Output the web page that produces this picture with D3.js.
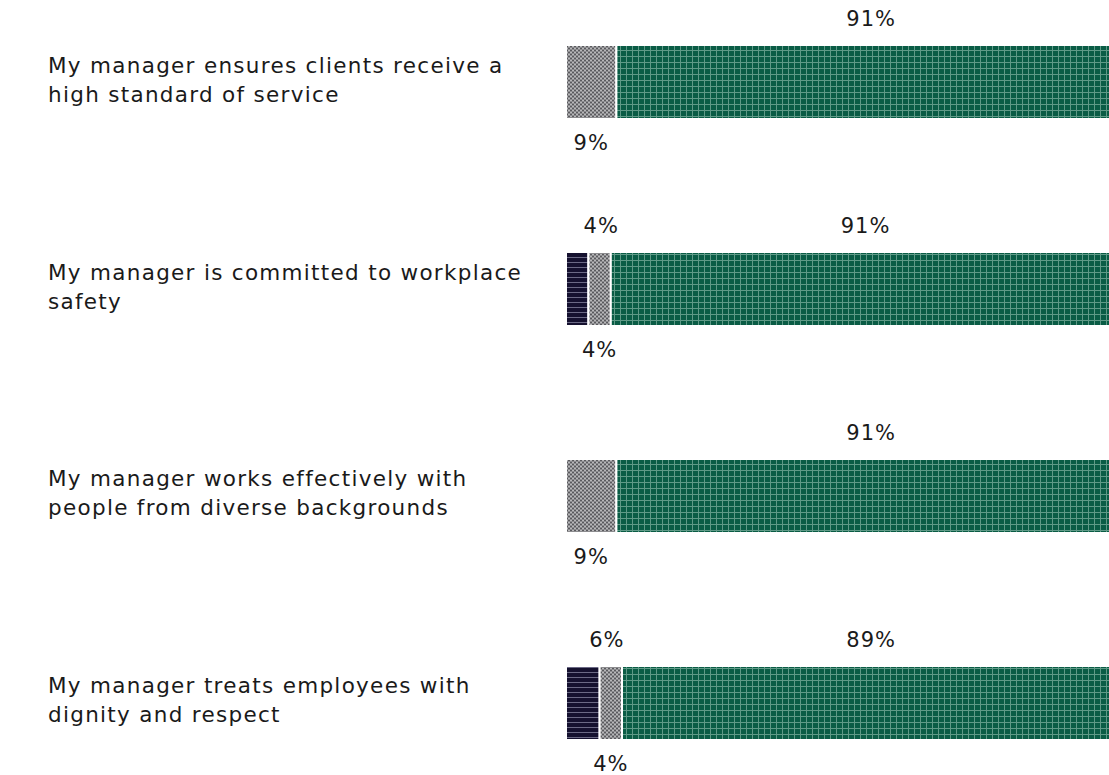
<!DOCTYPE html>
<html>
<head>
<meta charset="utf-8">
<script src="https://cdn.jsdelivr.net/npm/d3@7.9.0/dist/d3.min.js"></script>
<style>
  body { margin: 0; background: #fff; }
  svg { display: block; font-family: "DejaVu Sans", sans-serif; }
</style>
</head>
<body>
<svg id="chart" width="1109" height="775"></svg>
<script>
// questions (line breaks as in the original)
const questions = [
  "My manager ensures clients receive a\nhigh standard of service",
  "My manager is committed to workplace\nsafety",
  "My manager works effectively with\npeople from diverse backgrounds",
  "My manager treats employees with\ndignity and respect"
];
const disagree = [0, 4, 0, 6];
const neutral = [9, 4, 9, 4];
const agree = [91, 91, 91, 89];

const seriesNames = ["disagree", "neutral", "agree"];

const svg = d3.select("#chart");

// patterns for each response
const defs = svg.append("defs");

const pDis = defs.append("pattern").attr("id", "pat-disagree")
  .attr("patternUnits", "userSpaceOnUse").attr("width", 5).attr("height", 5);
pDis.append("rect").attr("width", 5).attr("height", 5).attr("fill", "#15112f");
pDis.append("rect").attr("y", 2).attr("width", 5).attr("height", 1).attr("fill", "#6b6985");

const pNeu = defs.append("pattern").attr("id", "pat-neutral")
  .attr("patternUnits", "userSpaceOnUse").attr("width", 4).attr("height", 4);
pNeu.append("rect").attr("width", 4).attr("height", 4).attr("fill", "#8c8c8f");
pNeu.append("rect").attr("x", 0).attr("y", 0).attr("width", 2).attr("height", 1).attr("fill", "#5a5a5e");
pNeu.append("rect").attr("x", 2).attr("y", 2).attr("width", 2).attr("height", 1).attr("fill", "#5a5a5e");
pNeu.append("rect").attr("x", 2).attr("y", 0).attr("width", 2).attr("height", 1).attr("fill", "#b8b8ba");
pNeu.append("rect").attr("x", 0).attr("y", 2).attr("width", 2).attr("height", 1).attr("fill", "#b8b8ba");

const pAgr = defs.append("pattern").attr("id", "pat-agree")
  .attr("patternUnits", "userSpaceOnUse").attr("width", 6).attr("height", 6);
pAgr.append("rect").attr("width", 6).attr("height", 6).attr("fill", "#0a5c45");
pAgr.append("rect").attr("x", 2).attr("width", 1).attr("height", 6).attr("fill", "#5f9a87");
pAgr.append("rect").attr("y", 2).attr("width", 6).attr("height", 1).attr("fill", "#5f9a87");

const fills = {
  disagree: "url(#pat-disagree)",
  neutral: "url(#pat-neutral)",
  agree: "url(#pat-agree)"
};

const x = d3.scaleLinear().domain([0, 100]).range([566, 1126]);
const y = d3.scaleBand().domain(questions).range([45, 740]).paddingInner(0.6425).paddingOuter(0);

const rows = questions.map((q, i) => ({
  q: q,
  values: { disagree: disagree[i], neutral: neutral[i], agree: agree[i] }
}));

const stack = d3.stack().keys(seriesNames)(rows.map(r => r.values));

// question labels
const labels = svg.append("g").selectAll("text")
  .data(questions)
  .enter()
  .append("text")
  .attr("x", 48)
  .attr("y", d => y(d) + y.bandwidth() / 2)
  .attr("font-size", 21.5)
  .attr("letter-spacing", 1.3)
  .attr("fill", "#1a1a1a");

labels.each(function (d) {
  const lines = d.split("\n");
  const t = d3.select(this);
  const lh = 29;
  const start = -((lines.length - 1) * lh) / 2 + 5;
  lines.forEach((line, k) => {
    t.append("tspan")
      .attr("x", 48)
      .attr("dy", k === 0 ? start : lh)
      .text(line);
  });
});

// bars
stack.forEach(layer => {
  const key = layer.key;
  svg.append("g").selectAll("rect")
    .data(layer.map((d, i) => ({ d: d, q: questions[i], v: d.data[key] })))
    .enter()
    .filter(d => d.v > 0)
    .append("rect")
    .attr("x", d => x(d.d[0]))
    .attr("y", d => y(d.q))
    .attr("width", d => x(d.d[1]) - x(d.d[0]))
    .attr("height", y.bandwidth())
    .attr("fill", fills[key])
    .attr("stroke", "#fff")
    .attr("stroke-width", 2);

  // value labels: neutral below, others above
  svg.append("g").selectAll("text")
    .data(layer.map((d, i) => ({ d: d, q: questions[i], v: d.data[key] })))
    .enter()
    .filter(d => d.v > 0)
    .append("text")
    .attr("x", d => (x(d.d[0]) + x(d.d[1])) / 2 + (key === "disagree" ? 24 : 0))
    .attr("y", d => key === "neutral" ? y(d.q) + y.bandwidth() + 31 : y(d.q) - 19)
    .attr("text-anchor", "middle")
    .attr("font-size", 21)
    .attr("letter-spacing", 1)
    .attr("fill", "#1a1a1a")
    .text(d => d.v + "%");
});
</script>
</body>
</html>
